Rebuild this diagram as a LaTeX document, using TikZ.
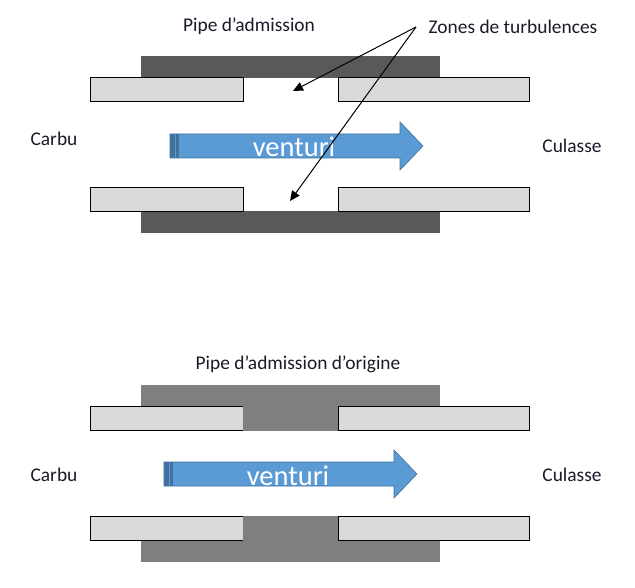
\documentclass[tikz,border=0pt]{standalone}
\usepackage{fontspec}
\setmainfont{Carlito}
\usetikzlibrary{arrows.meta}
\definecolor{barfill}{HTML}{D9D9D9}
\definecolor{sleevedark}{HTML}{595959}
\definecolor{sleevemid}{HTML}{7F7F7F}
\definecolor{flowfill}{HTML}{5B9BD5}
\definecolor{flowedge}{HTML}{41719C}
\definecolor{labelink}{HTML}{1A1A2A}
\tikzset{
  x=1bp,y=-1bp,
  bar/.style={draw=black,fill=barfill,line width=0.75bp},
  sleeve/.style={fill=#1,draw=none},
  lbl/.style={font=\fontsize{19.4bp}{22bp}\selectfont,text=labelink,inner sep=0pt,anchor=base},
  flow/.style={fill=flowfill,draw=flowedge,line width=0.6bp,line join=miter},
  flowtext/.style={font=\fontsize{28.5bp}{32bp}\selectfont,text=white,inner sep=0pt,anchor=base},
  pointer/.style={draw=black,line width=1bp,-{Triangle[length=10bp,width=9bp]}}
}
% One horizontal flow arrow with its darker tail strip
\newcommand{\flowarrow}[2]{%
  \begin{scope}[shift={(#1,#2)}]
    \path[flow] (0,-12) -- (230,-12) -- (230,-24) -- (253,0) -- (230,24) -- (230,12) -- (0,12) -- cycle;
    \fill[flowedge] (0,-12) rectangle (5,12);
    \fill[flowedge] (6,-12) rectangle (8.5,12);
  \end{scope}%
}
\begin{document}
\begin{tikzpicture}
\useasboundingbox (0,0) rectangle (635,588);
\fill[white] (0,0) rectangle (635,588);

% Upper pipe: dark sleeve behind the two walls
\fill[sleeve=sleevedark] (141,56) rectangle (440,78);
\fill[sleeve=sleevedark] (141,211) rectangle (440,233);
\draw[bar] (90.5,77.5) rectangle (243.5,101.5);
\draw[bar] (338.5,77.5) rectangle (529,101.5);
\draw[bar] (90.5,187.5) rectangle (243.5,211.5);
\draw[bar] (338.5,187.5) rectangle (529,211.5);

\flowarrow{170}{146}
\node[flowtext] (v1) at (294,157) {venturi};

\node[lbl] (pipeA) at (249,32) {Pipe d’admission};
\node[lbl] (zones) at (513,34) {Zones de turbulences};
\node[lbl] (carbuA) at (54,146) {Carbu};
\node[lbl] (culasseA) at (572,153) {Culasse};

% Pointers from the turbulence label into the gap
\coordinate (origin) at (416,27);
\coordinate (gapTop) at (293,91);
\coordinate (gapBot) at (290,201);
\draw[pointer] (origin) -- (gapTop);
\draw[pointer] (origin) -- (gapBot);

% Lower pipe: sleeve fills the gap between the walls
\fill[sleeve=sleevemid] (141,385) rectangle (440,407);
\fill[sleeve=sleevemid] (141,540) rectangle (440,562);
\draw[bar] (90.5,406.5) rectangle (243.5,430.5);
\draw[bar] (338.5,406.5) rectangle (529,430.5);
\draw[bar] (90.5,516.5) rectangle (243.5,540.5);
\draw[bar] (338.5,516.5) rectangle (529,540.5);
\fill[sleeve=sleevemid] (243,406) rectangle (338,431);
\fill[sleeve=sleevemid] (243,516) rectangle (338,541);

\flowarrow{164}{474}
\node[flowtext] (v2) at (288,485) {venturi};

\node[lbl] (pipeB) at (298,369) {Pipe d’admission d’origine};
\node[lbl] (carbuB) at (54,481) {Carbu};
\node[lbl] (culasseB) at (572,481) {Culasse};
\end{tikzpicture}
\end{document}
